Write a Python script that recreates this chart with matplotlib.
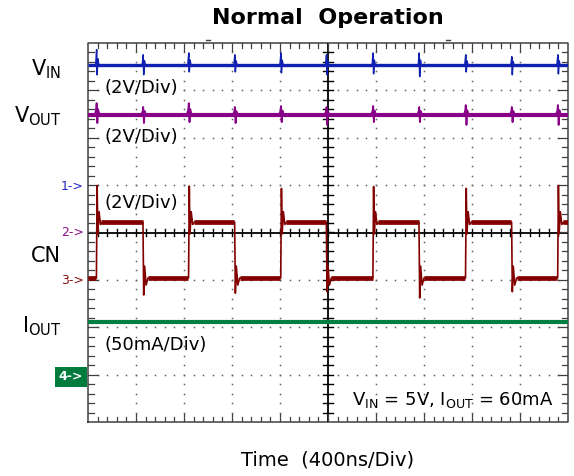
import numpy as np
import matplotlib.pyplot as plt

plt.rcParams['font.family'] = ['DejaVu Sans']
plt.rcParams['mathtext.default'] = 'regular'

# trace levels, in divisions from the centre line (screen is 10 x 8 div)
vin_level = 3.54
vout_level = 2.48
iout_level = -1.88
cn_high = 0.22
cn_low = -0.96

# CN switching edges, in divisions from the left edge of the screen
cn_rise = [0.18, 2.10, 4.02, 5.94, 7.87, 9.79]
cn_fall = [1.15, 3.06, 4.97, 6.90, 8.83]
cn_overshoot = [0.99, 0.98, 0.93, 0.97, 0.93, 0.99]
cn_undershoot = [-1.32, -1.28, -1.25, -1.38, -1.25]

# switching spikes coupled into VIN / VOUT at each edge (div up / down)
vin_spike_up = [0.32, 0.21, 0.25, 0.21, 0.25, 0.21, 0.25, 0.25, 0.21, 0.17, 0.21]
vin_spike_dn = [0.21, 0.21, 0.15, 0.15, 0.17, 0.21, 0.19, 0.25, 0.15, 0.21, 0.19]
vout_spike_up = [0.25, 0.17, 0.25, 0.17, 0.19, 0.17, 0.19, 0.17, 0.21, 0.17, 0.21]
vout_spike_dn = [0.17, 0.17, 0.15, 0.17, 0.15, 0.21, 0.15, 0.15, 0.21, 0.15, 0.21]

c_vin = '#1020b0'
c_vout = '#880088'
c_cn = '#820000'
c_iout = '#008040'

W, H = 574, 476
fig = plt.figure(figsize=(W / 100, H / 100), dpi=100)
ax = fig.add_axes([88 / W, 54 / H, 480 / W, 379 / H])
ax.set_xlim(0, 10)
ax.set_ylim(-4, 4)
ax.axis('off')

# graticule: dotted grid, centre crosshair, border with ticks
dot_y = np.arange(-3.8, 3.81, 0.2)
dot_x = np.arange(0.2, 9.81, 0.2)
for gx in range(1, 10):
    if gx != 5:
        ax.plot([gx] * len(dot_y), dot_y, ls='none', marker='s', ms=1.1, mew=0,
                color='#606060')
for gy in range(-3, 4):
    if gy != 0:
        ax.plot(dot_x, [gy] * len(dot_x), ls='none', marker='s', ms=1.1, mew=0,
                color='#606060')

ax.plot([0, 10, 10, 0, 0], [-4, -4, 4, 4, -4], color='#404040', lw=1.1, clip_on=False)
ax.axhline(0, color='black', lw=1.3)
ax.axvline(5, color='black', lw=1.3)
for tx in dot_x:
    big = abs(tx - round(tx)) < 1e-6
    L = 0.16 if big else 0.1
    ax.plot([tx, tx], [4, 4 - L], color='#404040', lw=0.9)
    ax.plot([tx, tx], [-4, -4 + L], color='#404040', lw=0.9)
    ax.plot([tx, tx], [-0.08, 0.08], color='black', lw=1)
for ty in dot_y:
    big = abs(ty - round(ty)) < 1e-6
    L = 0.2 if big else 0.12
    ax.plot([0, L], [ty, ty], color='#404040', lw=0.9)
    ax.plot([10, 10 - L], [ty, ty], color='#404040', lw=0.9)
    ax.plot([4.9, 5.1], [ty, ty], color='black', lw=1)
for mx in [2.5, 7.5]:
    ax.plot([mx - 0.05, mx + 0.05], [4.07, 4.07], color='#444444', lw=1, clip_on=False)

edges = sorted([(t, 'r', p) for t, p in zip(cn_rise, cn_overshoot)] +
               [(t, 'f', q) for t, q in zip(cn_fall, cn_undershoot)])

# VIN / VOUT / IOUT traces with switching spikes
ax.plot([0, 10], [vin_level, vin_level], color=c_vin, lw=2.4, solid_capstyle='butt')
ax.plot([0, 10], [vout_level, vout_level], color=c_vout, lw=3.0, solid_capstyle='butt')
ax.plot([0, 10], [iout_level, iout_level], color=c_iout, lw=3.0, solid_capstyle='butt')
for (t, kind, pk), u, d in zip(edges, vin_spike_up, vin_spike_dn):
    ax.plot([t - 0.02, t, t + 0.01, t + 0.025, t + 0.045],
            [vin_level, vin_level + u, vin_level - d, vin_level + u * 0.4, vin_level],
            color=c_vin, lw=1.1)
for (t, kind, pk), u, d in zip(edges, vout_spike_up, vout_spike_dn):
    ax.plot([t - 0.04, t - 0.01, t, t + 0.015, t + 0.03, t + 0.06],
            [vout_level, vout_level + u * 0.5, vout_level + u, vout_level - d,
             vout_level + u * 0.5, vout_level],
            color=c_vout, lw=1.3)

# CN switch node
xs, ys = [0], [cn_low]
flats = []
level = cn_low
start = 0
for t, kind, pk in edges:
    flats.append((start, t - 0.01, level))
    if kind == 'r':
        xs += [t - 0.005, t + 0.01, t + 0.025, t + 0.05, t + 0.08, t + 0.12]
        ys += [cn_low, pk, cn_high - 0.25, cn_high + 0.22, cn_high - 0.05, cn_high]
        level = cn_high
    else:
        xs += [t - 0.005, t + 0.01, t + 0.03, t + 0.06, t + 0.1]
        ys += [cn_high, pk, cn_low + 0.25, cn_low - 0.15, cn_low]
        level = cn_low
    start = t + 0.1
flats.append((start, 10, level))
xs.append(10)
ys.append(level)
ax.plot(xs, ys, color=c_cn, lw=1.2)
for a, b, lv in flats:
    ax.plot([a, b], [lv, lv], color=c_cn, lw=3.4, solid_capstyle='butt')


def ftext(px, py, s, **kw):
    fig.text(px / W, 1 - py / H, s, **kw)


ftext(328, 18, 'Normal  Operation', ha='center', va='center', fontsize=16, fontweight='bold')
ftext(61, 69, 'V$_{IN}$', ha='right', va='center', fontsize=15)
ftext(61, 116, 'V$_{OUT}$', ha='right', va='center', fontsize=15)
ftext(61, 256, 'CN', ha='right', va='center', fontsize=15)
ftext(61, 326, 'I$_{OUT}$', ha='right', va='center', fontsize=15)
for py in [88, 137, 203]:
    ftext(104, py, '(2V/Div)', ha='left', va='center', fontsize=13)
ftext(104, 345, '(50mA/Div)', ha='left', va='center', fontsize=13)
ftext(554, 400, 'V$_{IN}$ = 5V, I$_{OUT}$ = 60mA', ha='right', va='center', fontsize=13)
ftext(328, 460, 'Time  (400ns/Div)', ha='center', va='center', fontsize=14)

ftext(84, 186, '1->', ha='right', va='center', fontsize=9, color='#2020c0')
ftext(84, 232, '2->', ha='right', va='center', fontsize=9, color='#8a108a')
ftext(84, 280, '3->', ha='right', va='center', fontsize=9, color='#8a1010')
ftext(83, 377, '4->', ha='right', va='center', fontsize=9, color='white',
      fontweight='bold', bbox=dict(boxstyle='square,pad=0.3', fc='#007a3d', ec='none'))

fig.savefig('out.png', dpi=100)
